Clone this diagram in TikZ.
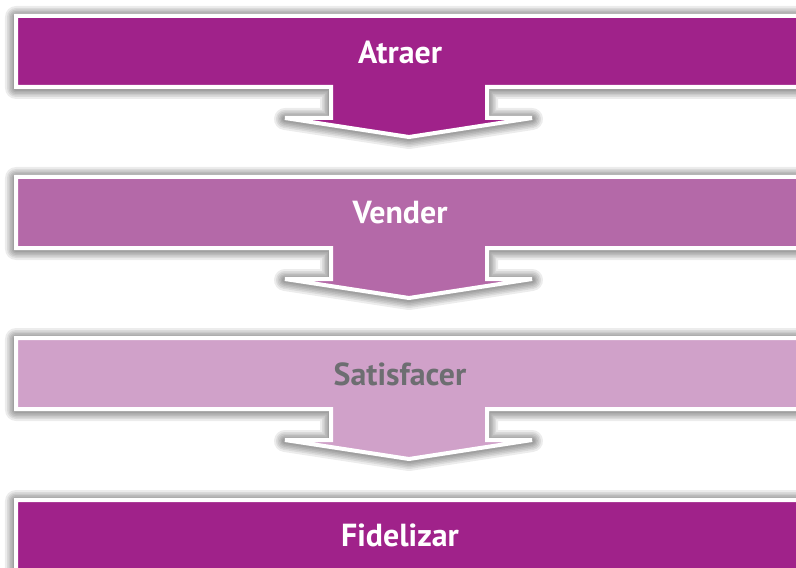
\documentclass[tikz,border=0pt]{standalone}
\usepackage{fontspec}
\setmainfont{PT Sans}
\definecolor{plumdark}{HTML}{A0228A}
\definecolor{plummid}{HTML}{B469A8}
\definecolor{plumlight}{HTML}{D0A1C9}
\definecolor{labelgray}{HTML}{6D6E71}
\tikzset{
  stagebar/.style={draw=white, line width=4bp, line join=miter},
  haze/.style={draw=black, draw opacity=0.075, line join=round},
  stagelabel/.style={font=\bfseries\fontsize{32}{32}\selectfont, text=white, anchor=center}
}
% outline of a bar with a downward arrow tab; #1 = top edge
\newcommand{\stageoutline}[1]{%
    (16,#1) -- (812,#1) -- (812,#1+71) -- (487,#1+71) -- (487,#1+102)
    -- (532,#1+102) -- (409,#1+121) -- (285,#1+102) -- (331,#1+102)
    -- (331,#1+71) -- (16,#1+71) -- cycle}
% soft shadow, then the filled bar; #1 = top edge, #2 = fill colour
\newcommand{\stagebarshape}[2]{%
  \foreach \w in {6,9,12,15,18,22}{
    \path[haze, line width=\w bp, shift={(0,1)}] \stageoutline{#1};
  }
  \path[stagebar, fill=#2] \stageoutline{#1};}
\begin{document}
\begin{tikzpicture}[x=1bp, y=-1bp]
  \useasboundingbox (0,0) rectangle (796,568);
  \begin{scope}
    \clip (0,0) rectangle (796,568);
    \stagebarshape{16}{plumdark}
    \stagebarshape{177}{plummid}
    \stagebarshape{338}{plumlight}
    \stagebarshape{500}{plumdark}
  \end{scope}
  \node[stagelabel] (atraer) at (400,52) {Atraer};
  \node[stagelabel] (vender) at (400,213) {Vender};
  \node[stagelabel, text=labelgray] (satisfacer) at (400,374) {Satisfacer};
  \node[stagelabel] (fidelizar) at (400,535) {Fidelizar};
\end{tikzpicture}
\end{document}
